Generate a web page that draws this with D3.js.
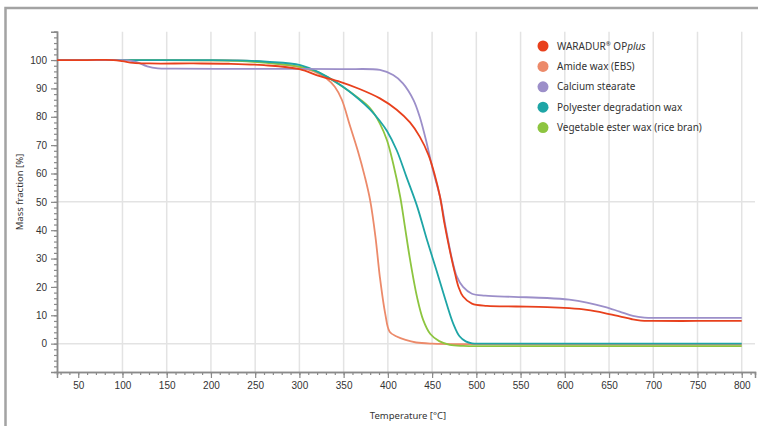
<!DOCTYPE html>
<html>
<head>
<meta charset="utf-8">
<script src="https://cdn.jsdelivr.net/npm/d3@7"></script>
<style>
    body { margin: 0; background: #fff; }
    svg { font-family: "Noto Sans", sans-serif; display: block; }
</style>
</head>
<body>
<script>
// [temperature, mass fraction]
var waradur = [[26,100],[60,100],[90,100],[100,99.6],[112,99],[130,98.8],[180,98.8],[220,98.7],[260,98.2],[300,96.8],[323,94.3],[346,92.3],[368,89.8],[391,86.5],[410,82.5],[425,78],[436,73],[446,66.5],[453,59.5],[459,51.7],[464,42.3],[470,32.9],[476,24.6],[480,19.9],[485,16.6],[495,14.1],[512,13.3],[545,13.1],[580,12.9],[605,12.5],[625,11.9],[645,10.8],[662,9.6],[676,8.6],[686,8.1],[700,8],[750,8],[800,8]];
var amide = [[26,100],[80,100],[140,100],[200,99.9],[250,99.6],[280,98.5],[300,97.5],[320,95.5],[330,93.7],[340,90.6],[348,86],[357,77],[366,68],[374,58.8],[380,50.5],[386,37.6],[391,23.4],[397,10.6],[402,4.2],[410,2.5],[420,1.3],[432,0.4],[450,0],[500,-0.2],[600,-0.3],[800,-0.3]];
var calcium = [[26,100],[60,100],[95,100],[106,99.9],[116,99.3],[128,97.8],[140,97.1],[160,97],[220,96.9],[300,96.9],[350,96.8],[391,96.5],[406,94.7],[417,91.8],[429,85.9],[436,80],[444,70.6],[451,61.1],[459,51.7],[466,39.9],[472,30.5],[478,23.6],[485,20],[495,17.6],[510,16.9],[542,16.5],[580,16.1],[605,15.5],[625,14.5],[645,13],[662,11.3],[677,9.8],[690,9.2],[705,9.1],[750,9.1],[800,9.1]];
var polyester = [[26,100],[80,100],[140,100],[190,100],[230,99.9],[263,99.4],[301,98.2],[323,95.5],[346,91.3],[368,86],[380,82.5],[391,78.5],[399,75],[410,68.2],[421,58.8],[433,48.5],[444,36.8],[455,25.8],[466,14.5],[474,7],[481,2.6],[488,0.8],[495,0.1],[510,0],[600,0],[800,0]];
var vegetable = [[26,100],[80,100],[140,100],[190,99.9],[230,99.7],[263,99],[301,97.6],[323,95.5],[346,91.2],[368,86.3],[380,83],[391,77.6],[399,71.7],[406,63.5],[414,51.7],[419,41.8],[425,29.8],[433,16.4],[440,8.3],[448,3.4],[458,0.9],[470,-0.4],[485,-0.8],[510,-0.9],[600,-0.9],[800,-0.9]];

var seriesNames = ['WARADUR', 'Amide wax (EBS)', 'Calcium stearate', 'Polyester degradation wax', 'Vegetable ester wax (rice bran)'];
var seriesData = [waradur, amide, calcium, polyester, vegetable];
var colors = ['#e8401c', '#ec8a6a', '#9c8fc9', '#1ea5a6', '#8dc540'];

var xTicks = d3.range(50, 801, 50);
var xGrid = d3.range(100, 801, 50);
var yTicks = d3.range(0, 101, 10);
var yGrid = [0, 50];

class Chart {
    constructor() {
        this.svg = d3.select('body')
            .append('svg')
            .attr('width', 758)
            .attr('height', 426);
    }

    draw() {
        var svg = this.svg;
        var x = d3.scaleLinear().domain([26, 815]).range([57, 755]);
        var y = d3.scaleLinear().domain([-10, 110]).range([372, 31.7]);

        //frame
        svg.append('path')
            .attr('d', 'M5.5,426 L5.5,8 L758,8')
            .attr('fill', 'none')
            .attr('stroke', '#a3a3a3')
            .attr('stroke-width', 2.5);

        //grid
        svg.selectAll('.vgrid')
            .data(xGrid).enter()
            .append('line')
            .attr('x1', d => x(d)).attr('x2', d => x(d))
            .attr('y1', y(110)).attr('y2', y(-10))
            .attr('stroke', '#e3e3e3')
            .attr('stroke-width', 1.5);
        svg.selectAll('.hgrid')
            .data(yGrid).enter()
            .append('line')
            .attr('x1', x(26)).attr('x2', x(815))
            .attr('y1', d => y(d)).attr('y2', d => y(d))
            .attr('stroke', '#e3e3e3')
            .attr('stroke-width', 1.5);

        //axisx minor
        var axisxMinor = d3.axisBottom(x)
            .tickValues(d3.range(30, 811, 10))
            .tickSize(3)
            .tickFormat('');
        var gxm = svg.append('g')
            .attr('transform', `translate(0,${y(-10)})`)
            .call(axisxMinor);
        //axisx
        var axisx = d3.axisBottom(x)
            .tickValues(xTicks)
            .tickSize(6)
            .tickPadding(4)
            .tickFormat(d3.format('d'));
        var gx = svg.append('g')
            .attr('transform', `translate(0,${y(-10)})`)
            .call(axisx);

        //axisy minor
        var axisyMinor = d3.axisLeft(y)
            .tickValues(d3.range(-8, 111, 2))
            .tickSize(3)
            .tickFormat('');
        var gym = svg.append('g')
            .attr('transform', `translate(${x(26)},0)`)
            .call(axisyMinor);
        //axisy
        var axisy = d3.axisLeft(y)
            .tickValues(yTicks)
            .tickSize(6)
            .tickPadding(4);
        var gy = svg.append('g')
            .attr('transform', `translate(${x(26)},0)`)
            .call(axisy);

        [gxm, gx, gym, gy].forEach(g => {
            g.select('.domain').attr('stroke', '#8a8a8a').attr('stroke-width', 1.5);
            g.selectAll('.tick line').attr('stroke', '#8a8a8a').attr('stroke-width', 1.2);
            g.selectAll('.tick text').attr('fill', '#333').style('font-size', '10px');
        });

        //axis titles
        svg.append('text')
            .attr('x', 408).attr('y', 419)
            .attr('text-anchor', 'middle')
            .attr('fill', '#333')
            .style('font-size', '9.5px')
            .text('Temperature [°C]');
        svg.append('text')
            .attr('transform', 'translate(23,192) rotate(-90)')
            .attr('text-anchor', 'middle')
            .attr('fill', '#333')
            .style('font-size', '9.5px')
            .text('Mass fraction [%]');

        //lines
        var line = d3.line()
            .x(d => x(d[0]))
            .y(d => y(d[1]))
            .curve(d3.curveCatmullRom.alpha(0.5));
        var order = [1, 4, 3, 2, 0];
        svg.selectAll('.curve')
            .data(order).enter()
            .append('path')
            .attr('d', i => line(seriesData[i]))
            .attr('fill', 'none')
            .attr('stroke', i => colors[i])
            .attr('stroke-width', 1.8);

        //legend
        var legend = svg.selectAll('.legend')
            .data(seriesNames).enter()
            .append('g')
            .attr('transform', (d, i) => `translate(543,${46 + i * 20.4})`);
        legend.append('circle')
            .attr('r', 5.5)
            .attr('fill', (d, i) => colors[i]);
        var label = legend.append('text')
            .attr('x', 14)
            .attr('dy', '0.35em')
            .attr('fill', '#333')
            .style('font-size', '10px');
        label.each(function(d, i) {
            var t = d3.select(this);
            if (i == 0) {
                t.append('tspan').text('WARADUR');
                t.append('tspan').attr('dy', -4).style('font-size', '6px').text('®');
                t.append('tspan').attr('dy', 4).text(' OP');
                t.append('tspan').style('font-style', 'italic').text('plus');
            } else {
                t.text(d);
            }
        });
    }
}

var chart = new Chart();
chart.draw();
</script>
</body>
</html>
